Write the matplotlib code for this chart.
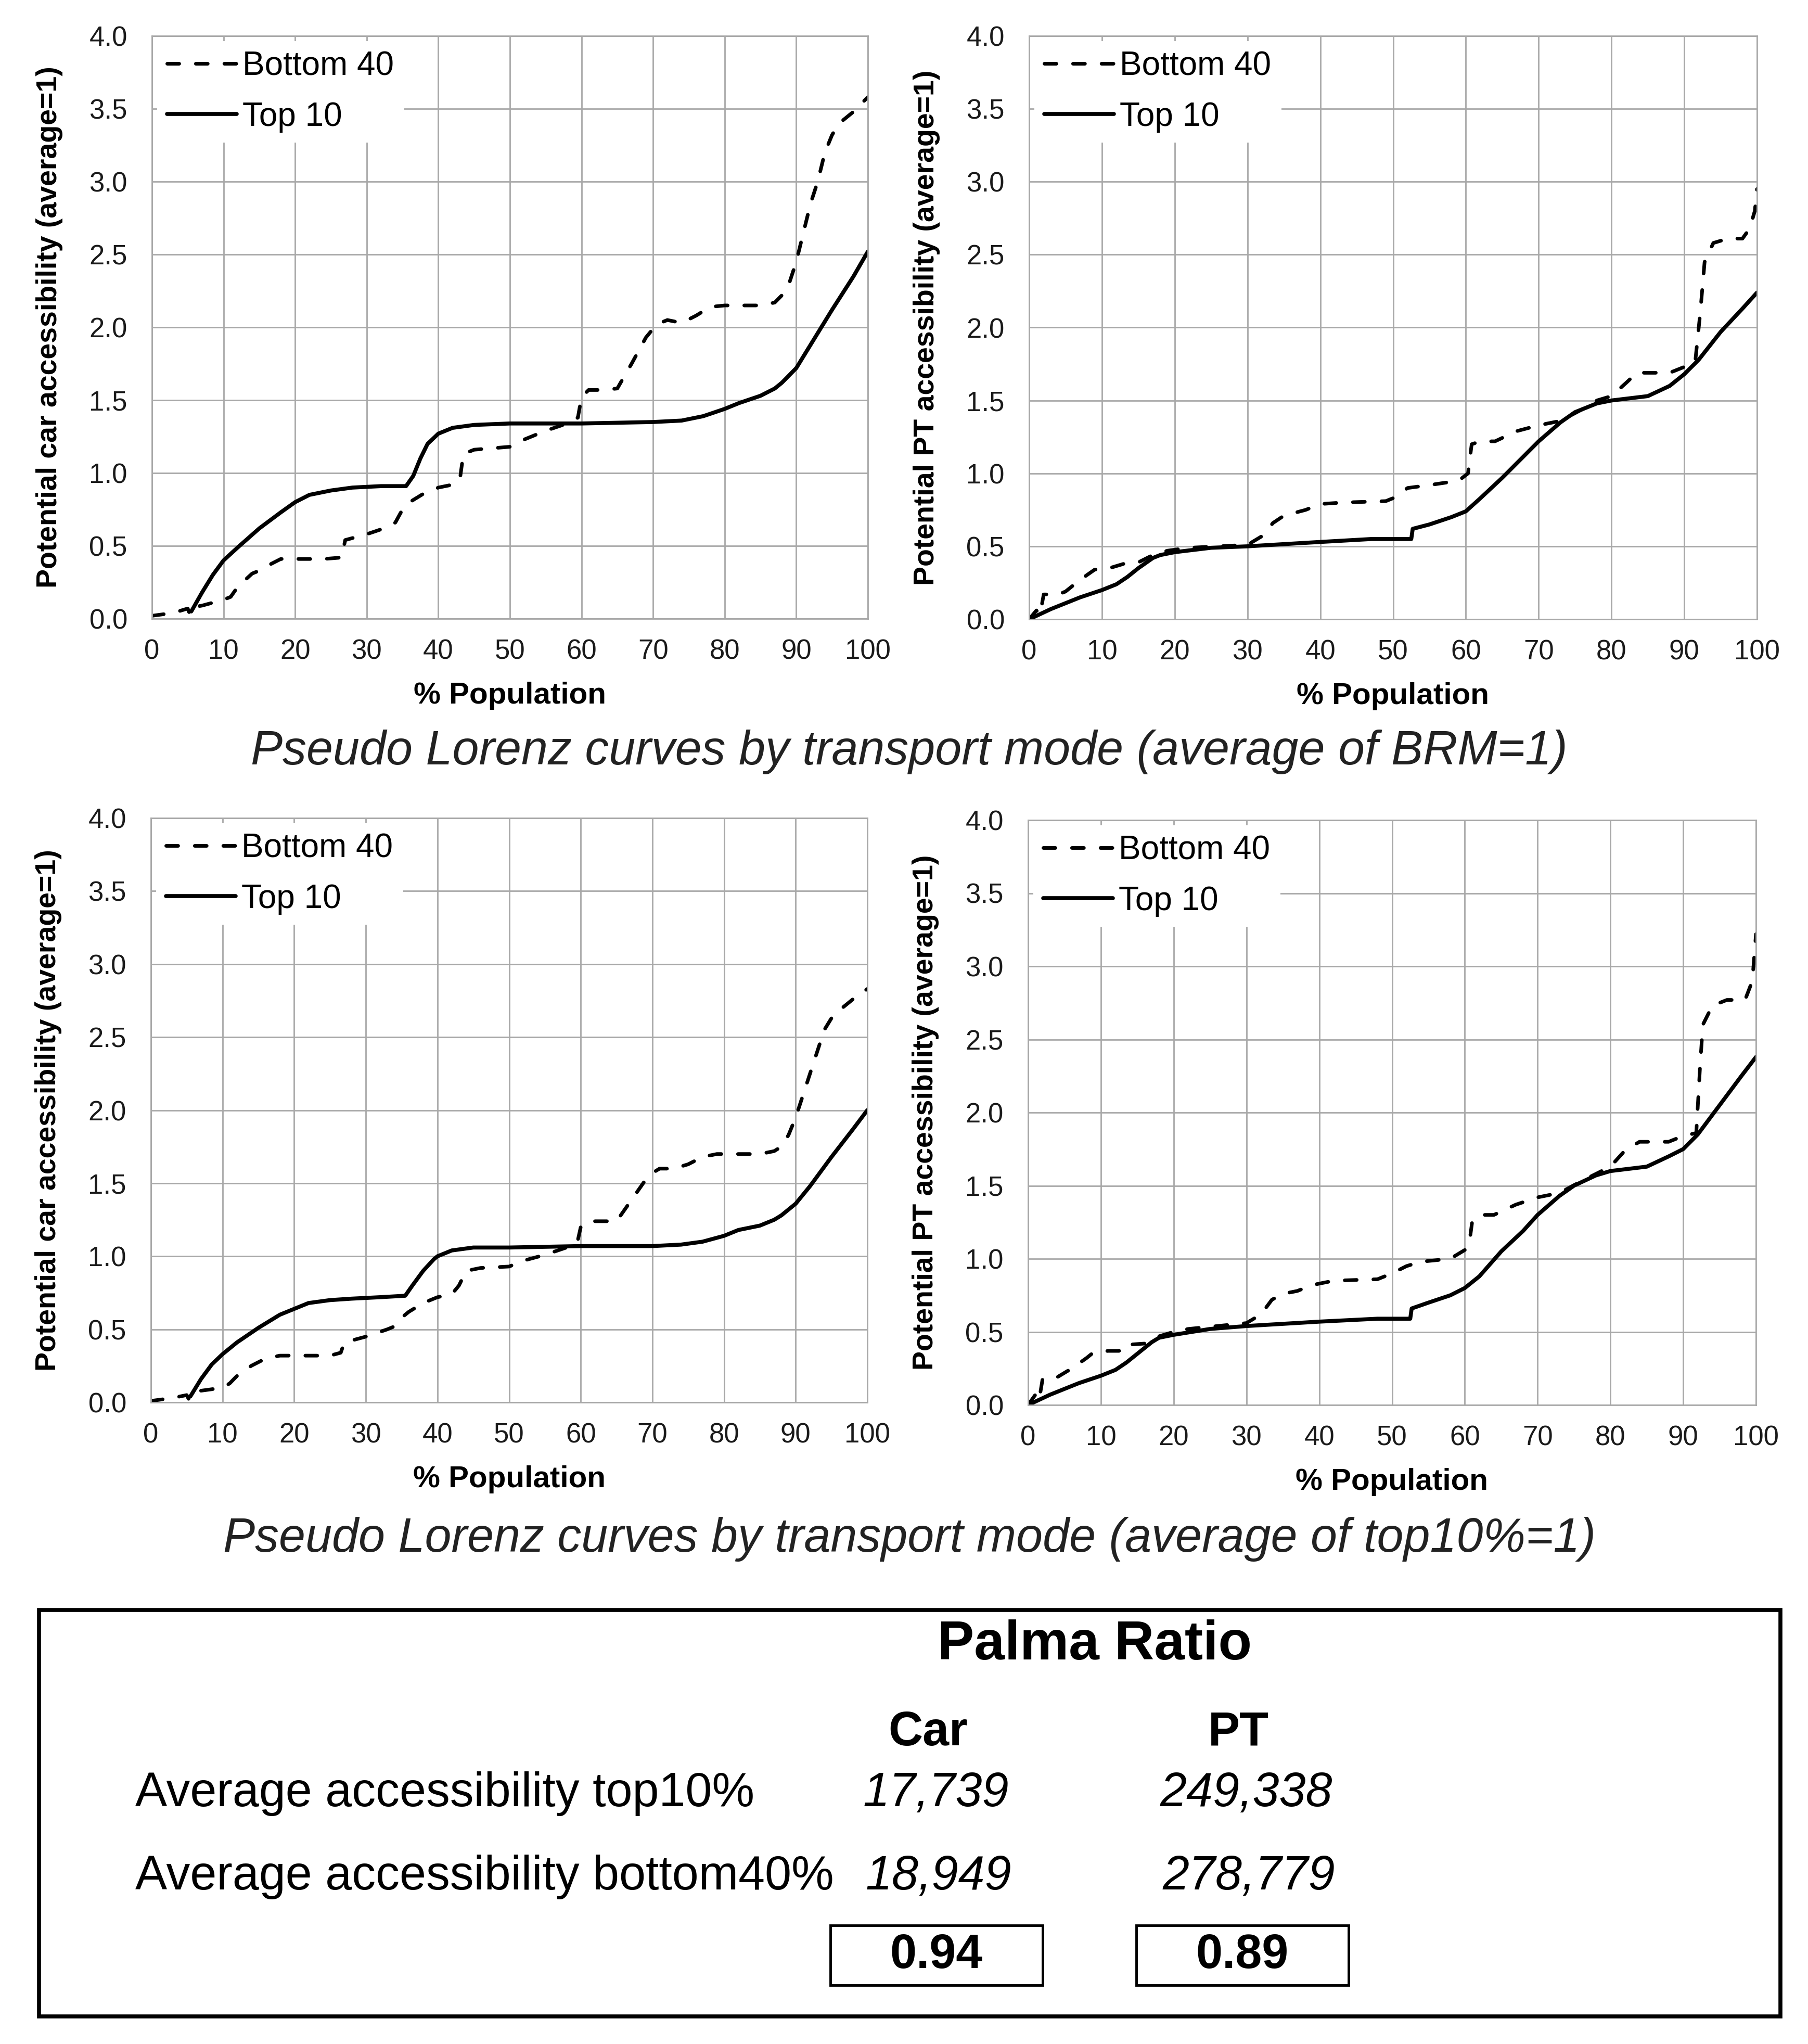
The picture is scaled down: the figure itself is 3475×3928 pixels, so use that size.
import numpy as np
import matplotlib.pyplot as plt
from matplotlib.patches import Rectangle

plt.rcParams['font.family'] = ['Liberation Sans', 'DejaVu Sans']

# --- curve data (x = % population, y = accessibility, average=1) ---
# car, average of BRM = 1
car_brm_b40_x = [0, 3, 5, 5.3, 5.8, 7, 10, 11, 12, 14, 15, 16, 18, 20, 24, 26.5, 27, 30, 33, 34, 35, 36, 38, 40, 42, 43,
                 43.5, 45, 50, 52, 55, 58, 59.5, 60, 61, 63, 65, 67, 69, 70, 71, 72, 74, 76, 78, 80, 85, 87, 88, 89, 90,
                 91, 92, 93, 94, 95, 96, 98, 100]
car_brm_b40_y = [0.02, 0.04, 0.07, 0.03, 0.08, 0.09, 0.13, 0.15, 0.22, 0.31, 0.33, 0.36, 0.41, 0.41, 0.41, 0.42, 0.54,
                 0.58, 0.63, 0.66, 0.75, 0.8, 0.86, 0.9, 0.92, 0.95, 1.13, 1.16, 1.18, 1.23, 1.29, 1.34, 1.38, 1.52,
                 1.57, 1.57, 1.58, 1.75, 1.93, 1.99, 2.03, 2.05, 2.03, 2.08, 2.14, 2.15, 2.15, 2.17, 2.22, 2.3, 2.45,
                 2.65, 2.85, 3.0, 3.2, 3.32, 3.4, 3.48, 3.58]
car_brm_t10_x = [5.5, 7, 8.5, 10, 12, 15, 18, 20, 22, 25, 28, 32, 35.5, 36.5, 37.5, 38.5, 40, 42, 45, 50, 60, 70, 74, 77,
                 80, 82, 85, 87, 88, 90, 92, 95, 98, 100]
car_brm_t10_y = [0.05, 0.18, 0.3, 0.4, 0.49, 0.62, 0.73, 0.8, 0.85, 0.88, 0.9, 0.91, 0.91, 0.98, 1.1, 1.2, 1.27, 1.31,
                 1.33, 1.34, 1.34, 1.35, 1.36, 1.39, 1.44, 1.48, 1.53, 1.58, 1.62, 1.72, 1.88, 2.12, 2.35, 2.52]

# PT, average of BRM = 1
pt_brm_b40_x = [0, 1, 1.5, 2, 4, 5, 7, 9, 11, 13, 15, 17, 19, 22, 26, 30, 32, 33.5, 35, 38, 40, 43, 49, 50, 52, 55, 59,
                60.3, 60.8, 62, 64, 67, 70, 73, 76, 78, 80, 82, 83.5, 86, 88, 90, 91.5, 92.2, 92.8, 94, 96, 98, 99,
                99.7, 100]
pt_brm_b40_y = [0.0, 0.06, 0.03, 0.17, 0.17, 0.19, 0.27, 0.34, 0.35, 0.38, 0.39, 0.44, 0.47, 0.49, 0.5, 0.51, 0.57,
                0.66, 0.71, 0.75, 0.79, 0.8, 0.81, 0.83, 0.9, 0.92, 0.95, 1.0, 1.2, 1.22, 1.22, 1.29, 1.33, 1.36, 1.44,
                1.5, 1.53, 1.62, 1.69, 1.69, 1.69, 1.73, 1.76, 2.1, 2.45, 2.58, 2.61, 2.61, 2.68, 2.8, 2.95]
pt_brm_t10_x = [0, 3, 7, 10, 12, 13.5, 15, 17, 18, 20, 25, 30, 40, 47, 52.5, 52.7, 55, 58, 60, 62, 65, 68, 70, 73, 75,
                78, 80, 85, 88, 90, 92, 95, 98, 100]
pt_brm_t10_y = [0.0, 0.07, 0.15, 0.2, 0.24, 0.29, 0.35, 0.42, 0.44, 0.46, 0.49, 0.5, 0.53, 0.55, 0.55, 0.62, 0.65, 0.7,
                0.74, 0.83, 0.97, 1.12, 1.22, 1.35, 1.42, 1.48, 1.5, 1.53, 1.6, 1.68, 1.78, 1.97, 2.13, 2.24]

# car, average of top10% = 1
car_top_b40_x = [0, 3, 5, 5.3, 5.8, 7, 10, 11, 12, 14, 16, 18, 20, 25, 26.5, 27, 30, 33, 34, 35, 36, 38, 40, 42, 43, 44,
                 46, 50, 52, 55, 58, 59.5, 60, 61, 63, 65, 67, 69, 70, 71, 73, 75, 77, 79, 80, 85, 87, 88, 89, 90, 91,
                 92, 93, 94, 95, 96, 98, 100]
car_top_b40_y = [0.01, 0.03, 0.05, 0.02, 0.06, 0.08, 0.1, 0.13, 0.18, 0.25, 0.3, 0.32, 0.32, 0.32, 0.34, 0.41, 0.45,
                 0.5, 0.52, 0.58, 0.62, 0.68, 0.72, 0.74, 0.8, 0.9, 0.92, 0.93, 0.97, 1.01, 1.06, 1.09, 1.2, 1.24, 1.24,
                 1.24, 1.38, 1.52, 1.57, 1.6, 1.6, 1.63, 1.68, 1.7, 1.7, 1.7, 1.72, 1.75, 1.83, 1.95, 2.1, 2.25, 2.4,
                 2.55, 2.63, 2.68, 2.76, 2.83]
car_top_t10_x = [5.5, 7, 8.5, 10, 12, 15, 18, 20, 22, 25, 28, 32, 35.5, 36.5, 38, 39.5, 40, 42, 45, 50, 60, 70, 74, 77,
                 80, 82, 85, 87, 88, 90, 92, 95, 98, 100]
car_top_t10_y = [0.04, 0.16, 0.26, 0.33, 0.41, 0.51, 0.6, 0.64, 0.68, 0.7, 0.71, 0.72, 0.73, 0.8, 0.9, 0.98, 1.0, 1.04,
                 1.06, 1.06, 1.07, 1.07, 1.08, 1.1, 1.14, 1.18, 1.21, 1.25, 1.28, 1.36, 1.48, 1.68, 1.87, 2.0]

# PT, average of top10% = 1
pt_top_b40_x = [0, 1, 1.5, 2, 4, 6, 8, 9, 11, 12.5, 13, 16, 18, 20, 22, 26, 30, 32, 33.5, 35, 37, 39, 42, 48, 50, 52, 54,
                58, 60, 60.6, 61, 62, 64, 67, 70, 73, 76, 78, 80, 82, 84, 86, 88, 90, 91.8, 92.3, 92.7, 94, 96, 98.5,
                99.5, 100]
pt_top_b40_y = [0.0, 0.07, 0.03, 0.18, 0.19, 0.25, 0.32, 0.36, 0.37, 0.37, 0.41, 0.42, 0.47, 0.5, 0.52, 0.54, 0.56,
                0.62, 0.72, 0.76, 0.78, 0.82, 0.85, 0.86, 0.9, 0.95, 0.98, 1.0, 1.06, 1.1, 1.25, 1.3, 1.3, 1.37, 1.42,
                1.45, 1.53, 1.58, 1.63, 1.74, 1.8, 1.8, 1.8, 1.84, 1.86, 2.3, 2.6, 2.73, 2.77, 2.77, 2.9, 3.22]
pt_top_t10_x = [0, 3, 7, 10, 12, 13.5, 15, 17, 18, 20, 25, 30, 40, 48, 52.5, 52.7, 55, 58, 60, 62, 65, 68, 70, 73, 75,
                78, 80, 85, 88, 90, 92, 95, 98, 100]
pt_top_t10_y = [0.0, 0.07, 0.15, 0.2, 0.24, 0.29, 0.35, 0.43, 0.46, 0.48, 0.52, 0.54, 0.57, 0.59, 0.59, 0.66, 0.7, 0.75,
                0.8, 0.88, 1.05, 1.19, 1.3, 1.43, 1.5, 1.57, 1.6, 1.63, 1.7, 1.75, 1.85, 2.05, 2.25, 2.38]

x_ticks = list(range(0, 101, 10))
y_ticks = [0.0, 0.5, 1.0, 1.5, 2.0, 2.5, 3.0, 3.5, 4.0]
series_labels = ['Bottom 40', 'Top 10']
captions = ['Pseudo Lorenz curves by transport mode (average of BRM=1)',
            'Pseudo Lorenz curves by transport mode (average of top10%=1)']

# palma table
row_labels = ['Average accessibility top10%', 'Average accessibility bottom40%']
col_labels = ['Car', 'PT']
top10_avg = ['17,739', '249,338']
bottom40_avg = ['18,949', '278,779']
palma = ['0.94', '0.89']

W, H = 3475, 3928
fig = plt.figure(figsize=(W / 100, H / 100), dpi=100)
fig.patch.set_facecolor('white')

# overlay axes in pixel coords for captions and the table
ov = fig.add_axes([0, 0, 1, 1])
ov.set_xlim(0, W)
ov.set_ylim(H, 0)
ov.axis('off')

GRID = '#a8a8a8'


def panel(box, b40x, b40y, t10x, t10y, ylabel):
    left, top, right, bottom = box
    ax = fig.add_axes([left / W, 1 - bottom / H, (right - left) / W, (bottom - top) / H])
    ax.plot(b40x, b40y, color='black', lw=5, ls=(0, (3.3, 4.6)), dash_capstyle='round',
            label=series_labels[0])
    ax.plot(t10x, t10y, color='black', lw=5.5, solid_capstyle='round', label=series_labels[1])
    ax.set_xlim(0, 100)
    ax.set_ylim(0, 4)
    ax.set_xticks(x_ticks)
    ax.set_yticks(y_ticks)
    ax.set_yticklabels([f'{v:.1f}' for v in y_ticks])
    ax.grid(True, color=GRID, lw=2)
    ax.set_axisbelow(True)
    for s in ax.spines.values():
        s.set_color(GRID)
        s.set_linewidth(2)
    ax.tick_params(length=0, labelsize=38, colors='#1a1a1a')
    ax.tick_params(axis='y', pad=34)
    ax.tick_params(axis='x', pad=28)
    ax.set_xlabel('% Population', fontsize=42, fontweight='bold', labelpad=23)
    ax.set_ylabel(ylabel, fontsize=40, fontweight='bold', labelpad=36)
    leg = ax.legend(loc='upper left', bbox_to_anchor=(0.0, 1.0), fontsize=46, handlelength=2.1,
                    handletextpad=0.18, labelspacing=0.58, borderpad=0.3, borderaxespad=0.15,
                    frameon=True, fancybox=False, framealpha=1)
    leg.get_frame().set_edgecolor('none')
    leg.get_frame().set_facecolor('white')
    return ax


panel((292, 69, 1668, 1189), car_brm_b40_x, car_brm_b40_y, car_brm_t10_x, car_brm_t10_y,
      'Potential car accessibility (average=1)')
panel((1978, 69, 3377, 1190), pt_brm_b40_x, pt_brm_b40_y, pt_brm_t10_x, pt_brm_t10_y,
      'Potential PT accessibility (average=1)')
panel((290, 1572, 1667, 2695), car_top_b40_x, car_top_b40_y, car_top_t10_x, car_top_t10_y,
      'Potential car accessibility (average=1)')
panel((1976, 1576, 3375, 2700), pt_top_b40_x, pt_top_b40_y, pt_top_t10_x, pt_top_t10_y,
      'Potential PT accessibility (average=1)')

ov.text(1747, 1445, captions[0], fontsize=66, style='italic', color='#222222', ha='center', va='center')
ov.text(1748, 2958, captions[1], fontsize=66, style='italic', color='#222222', ha='center', va='center')

# table box
ov.add_patch(Rectangle((75, 3094), 3347, 781, fill=False, lw=5.5, ec='black'))
ov.text(2104, 3161, 'Palma Ratio', fontsize=76, fontweight='bold', ha='center', va='center')
col_x = [1799, 2395]
for cx, lab in zip(col_x, col_labels):
    ov.text(cx - 15, 3330, lab, fontsize=66, fontweight='bold', ha='center', va='center')
ov.text(260, 3447, row_labels[0], fontsize=66, ha='left', va='center')
ov.text(260, 3607, row_labels[1], fontsize=66, ha='left', va='center')
for cx, v1, v2 in zip(col_x, top10_avg, bottom40_avg):
    ov.text(cx, 3447, v1, fontsize=66, style='italic', ha='center', va='center')
    ov.text(cx + 5, 3607, v2, fontsize=66, style='italic', ha='center', va='center')
for bx, val in zip([1596, 2184], palma):
    ov.add_patch(Rectangle((bx, 3700), 408, 115, fill=False, lw=3.5, ec='black'))
    ov.text(bx + 204, 3758, val, fontsize=66, fontweight='bold', ha='center', va='center')

fig.savefig('out.png', dpi=100, facecolor='white')
